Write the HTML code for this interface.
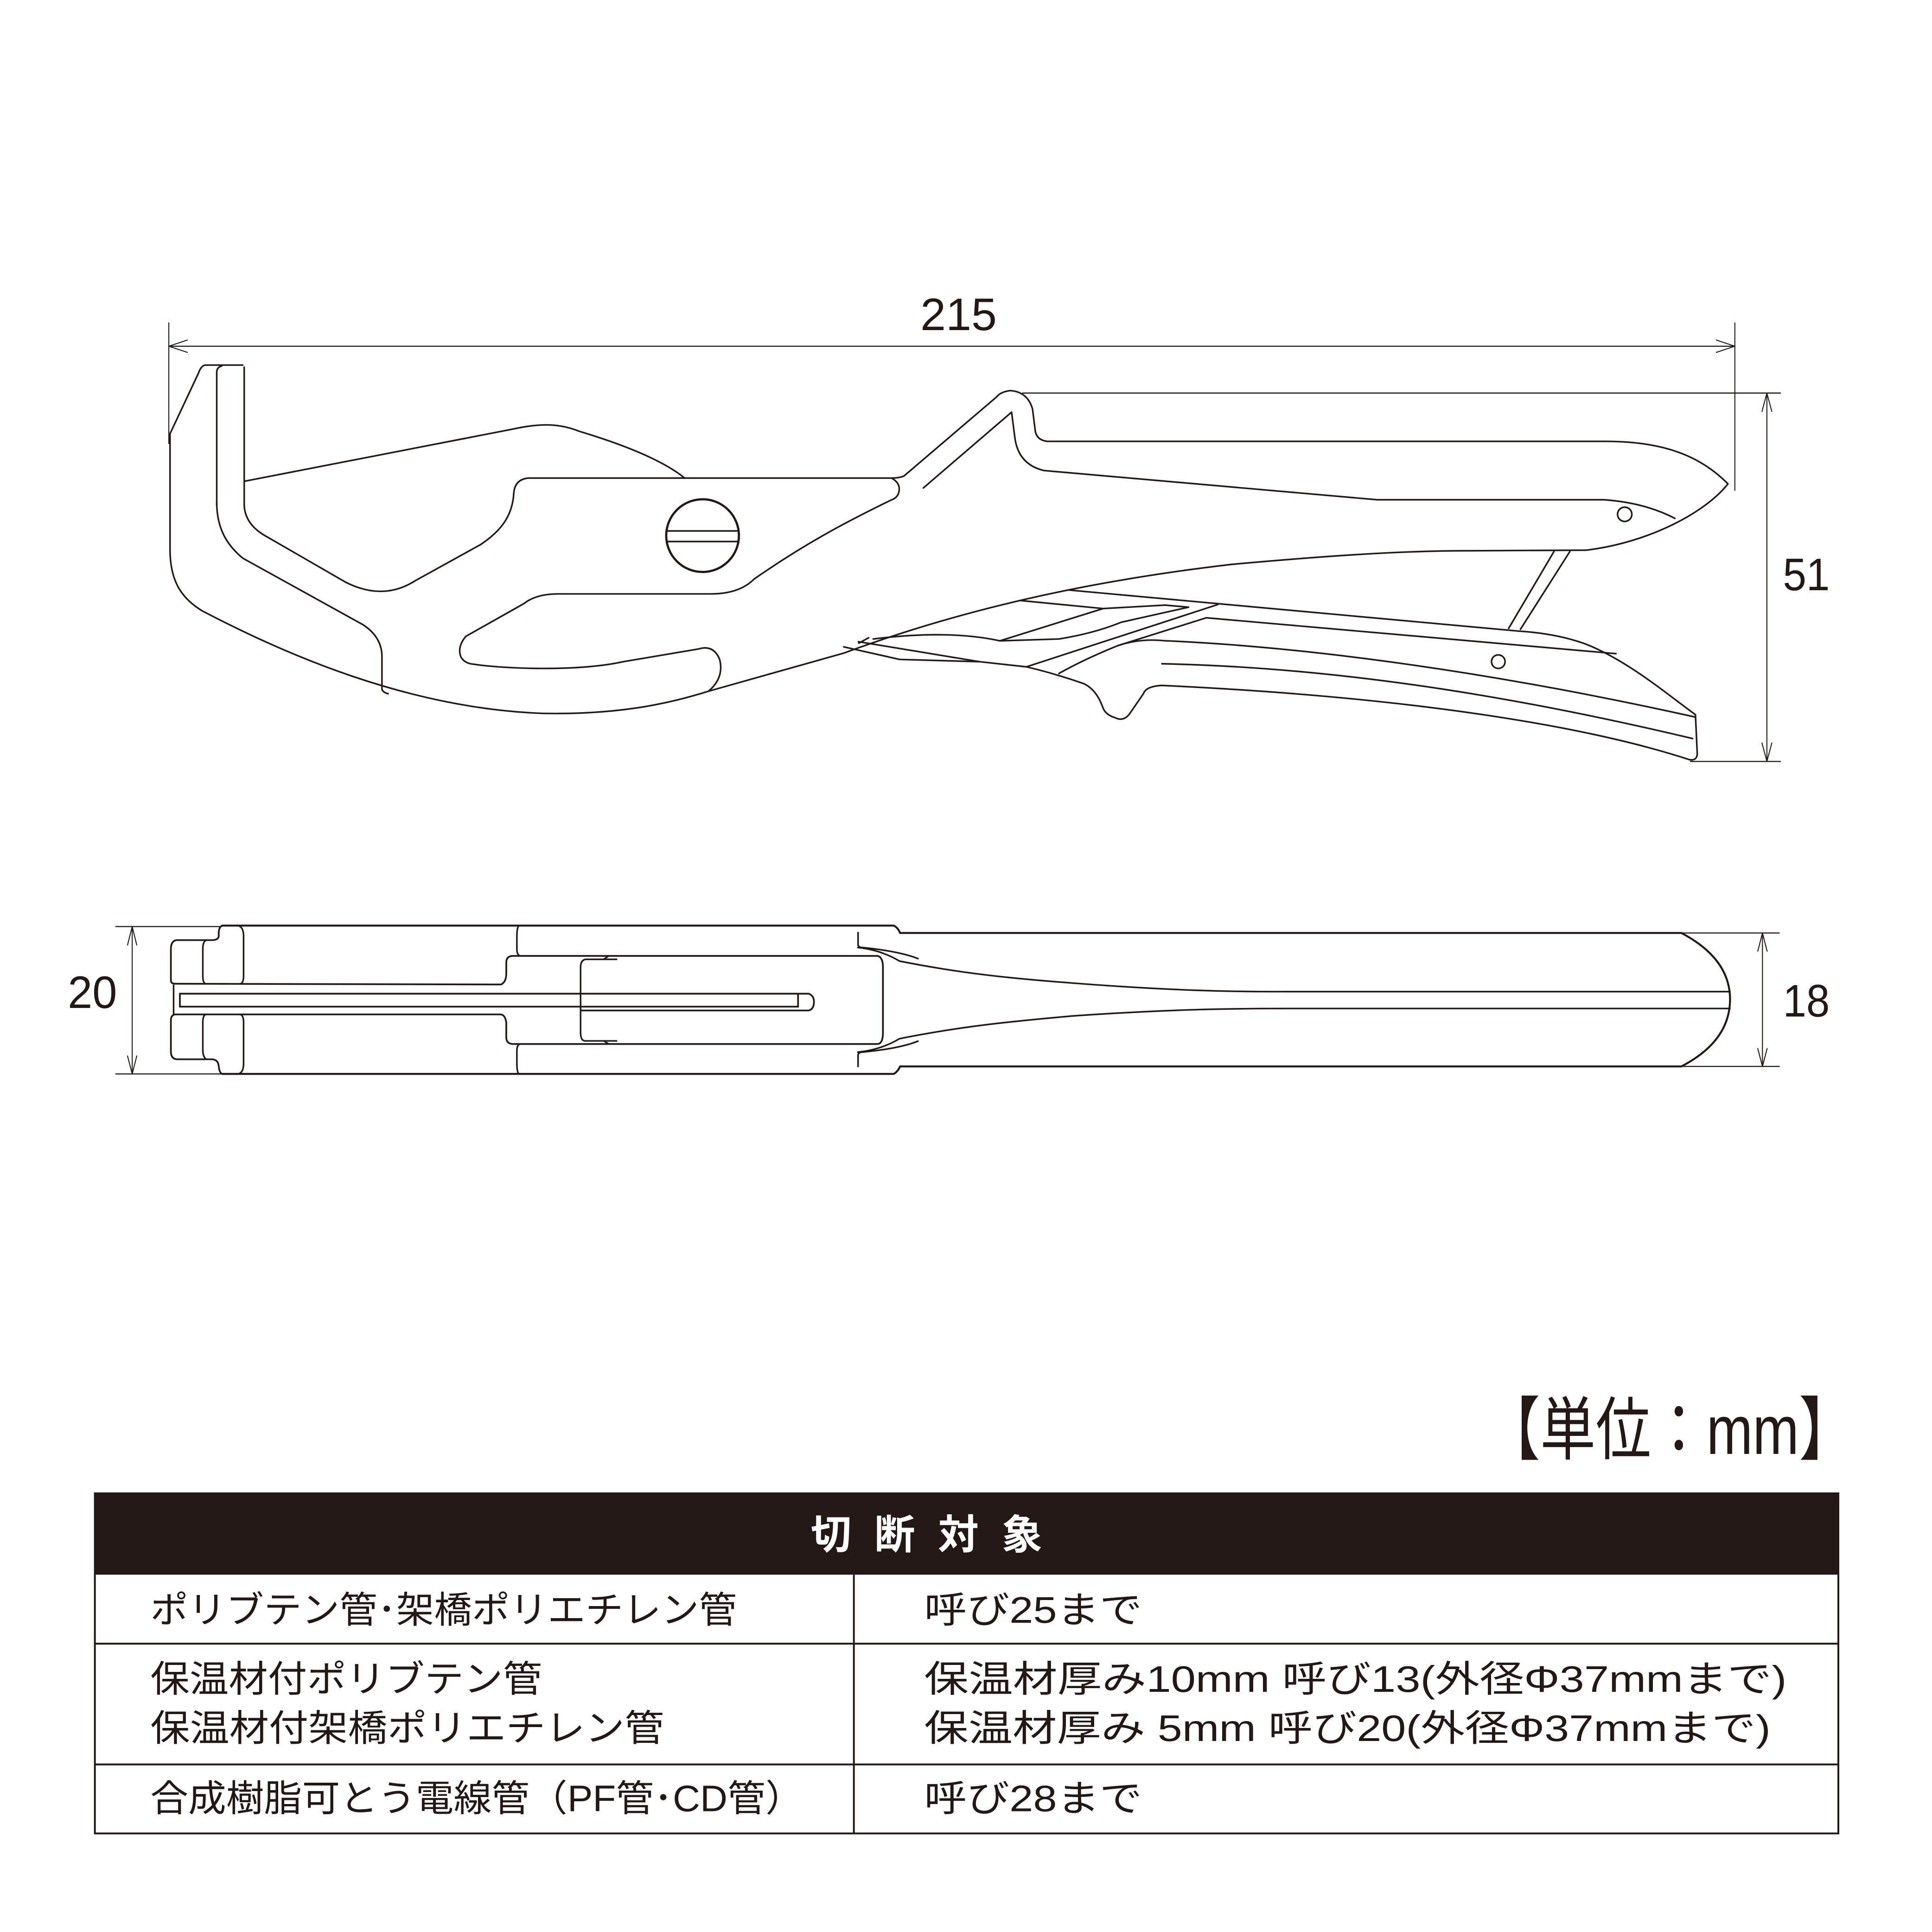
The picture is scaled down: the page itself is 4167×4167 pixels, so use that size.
<!DOCTYPE html>
<html><head><meta charset="utf-8"><style>
html,body{margin:0;padding:0;background:#fff;}
svg{display:block;}
text{font-family:"Liberation Sans","Noto Sans CJK JP",sans-serif;fill:#231815;}
</style></head><body>
<svg width="4167" height="4167" viewBox="0 0 1568 1568" xmlns="http://www.w3.org/2000/svg">
<g fill="none" stroke="#231815" stroke-width="1.3" stroke-linejoin="round" stroke-linecap="round">
<line x1="137" y1="262" x2="137" y2="360" stroke-width="0.8"/>
<line x1="1408" y1="262" x2="1408" y2="398" stroke-width="0.8"/>
<line x1="137" y1="281" x2="1408" y2="281" stroke-width="0.9"/>
<path d="M152,276 L137,281 L152,286 M1393,276 L1408,281 L1393,286" stroke-width="0.8"/>
<line x1="830" y1="319" x2="1445" y2="319" stroke-width="0.9"/>
<line x1="1372" y1="618" x2="1445" y2="618" stroke-width="0.9"/>
<line x1="1434" y1="319" x2="1434" y2="618" stroke-width="0.8"/>
<path d="M1430,334 L1434,319 L1438,334 M1430,603 L1434,618 L1438,603" stroke-width="0.8"/>

<path d="M197,296.3 L166.5,296.3 Q163,297 161,303 L138,352 L138,446 C138,470 146,485 164.5,496 C230,530 330,575 441,579 C500,580 540,572 575,561 L685,530 C780,495 880,472 1000,458 C1100,449 1150,447 1192,447 L1287.5,446.5 C1340,440 1385,415 1402.4,392.7 C1380,370 1350,358 1301.9,358.2 L849.8,358.2 Q840.5,357 840,348 L838,332 Q834,318 820,317 Q812,318 809,322 L733.7,386.3 Q730,388 723.5,388 L428.8,388 Q418,389 417,400 C416,420 405,432 390,442 L337,471.3 Q311,488 280.3,472.4 L213.3,433.7 Q198.2,424 198.2,409 L198.2,298"/>
<path d="M175.9,410 L175.9,302 Q176,298 180,297"/>
<path d="M175.9,408 C176,430 185,443 197,453 L294.6,507 Q310,517 310,533 L310,559.6 Q311,562 315,563"/>
<path d="M198.2,390.6 L416.5,348.2 C440,343 455,344 470,350 C510,362 540,375 555.6,388"/>
<path d="M723.5,388 Q731,392 729.6,399 Q728.5,404 723.5,405.7 C690,422 655,440 612,470 Q600,482 577,482 L453,482 Q435,482 425,490 L378,516.5 Q371,525 374,533 Q377,538.5 384,539 C410,543 470,545 506,537 L567,526.7 Q579,523 584,535 Q588,550 575,561"/>
<circle cx="570.2" cy="434.7" r="29.5" stroke-width="1.8"/>
<line x1="541.5" y1="430.9" x2="599" y2="430.9"/>
<line x1="541.5" y1="439.5" x2="599" y2="439.5"/>
<path d="M749.4,396 L821,334.5 L823.5,354 Q826,377 847.4,381.9 L1117.7,405.6 L1301.9,405.6 Q1335,408 1359.3,420.7"/>
<circle cx="1318.6" cy="417.4" r="5.8"/>
<line x1="1261.2" y1="447.6" x2="1224.4" y2="510"/>
<line x1="1274.1" y1="447.6" x2="1234" y2="510.7"/>
<path d="M866.6,478.8 L1232.5,512.2 Q1262,514 1285,522 C1320,535 1355,565 1376,580 L1377.5,612 Q1377,617.5 1371.3,616.6 C1290,590 1150,566 943,556.3 Q930,557 928,563 L917,579 Q912,586 905,582.5 Q897,580 895,574 Q890,560 880,555 C860,548 845,544 833,541.2 L794.8,537"/>
<line x1="979" y1="501.4" x2="1311.5" y2="530.5"/>
<path d="M979,501.4 L907.2,524 Q880,535 859.4,546.6"/>
<path d="M907.2,524 Q925,518 945,520 C1060,525 1210,545 1376,582"/>
<path d="M943,538.7 C1100,542 1250,570 1373.7,599.4"/>
<circle cx="1216" cy="537" r="5.5"/>
<path d="M684.8,525 L730.2,535.2 L794.8,537"/>
<path d="M696.7,520.8 L794.8,537"/>
<path d="M708.7,518.6 Q770,511 811.5,520.1 L859.4,518.6 Q888,514 910,505 L964.6,492.8 L945.5,491.1 L895.3,493.9 L811.5,520.1"/>
<path d="M828.3,487.4 L895.3,493.9"/>
<path d="M988.5,490.6 L833,541.2"/>
<path d="M697,522 L705,517.6"/>

<line x1="94" y1="752" x2="180" y2="752" stroke-width="0.9"/>
<line x1="94" y1="871.6" x2="180" y2="871.6" stroke-width="0.9"/>
<line x1="107.3" y1="752" x2="107.3" y2="871.6" stroke-width="0.8"/>
<path d="M103.5,767 L107.3,752 L111,767 M103.5,857 L107.3,871.6 L111,857" stroke-width="0.8"/>

<path d="M180.5,751.2 L725.2,751.2 Q728.5,752.5 730.5,757.2 L1364.6,757.2 Q1404,778 1404.1,811 Q1404,845 1364.6,865.5 L730.5,865.5 Q728.5,870 725.2,871.6 L180.5,871.6" stroke-width="1.6"/>
<path d="M180.5,751.2 Q177.5,752 177.5,758 L177.5,760 Q177,763 172,763 L143,763 Q138.7,764 138.7,770 L138.7,796 Q139,798.4 142,798.4 L406.6,799 Q410.9,797 410.9,790 L410.9,781 Q411,776 416,775.8 L712.3,775.8 Q716.6,777 716.6,785 L716.6,838 Q716.6,847 712.3,847.3 L416,847.3 Q411,847 410.9,842 L410.9,830 Q410,823.3 406,823.3 L142,823.3 Q138.7,824 138.7,828 L138.7,854 Q139,859.7 144,859.7 L172,859.7 Q177,860 177.5,865 Q178,871 180.5,871.6" stroke-width="1.4"/>
<path d="M167.6,763 Q164.6,764 164.6,770 L164.6,792 Q164.6,798 167,798.4 M167.6,859.7 Q164.6,858 164.6,852 L164.6,830 Q164.6,824 167,823.3"/>
<path d="M194,751.5 Q197.7,753 197.7,760 L197.7,792 Q197.7,798 195,798.4 M194,871.4 Q197.7,870 197.7,863 L197.7,830 Q197.7,824 195,823.3"/>
<path d="M421,751.5 Q419.5,753 419.5,760 L419.5,770 Q419.5,775 422,775.8 M421,871.4 Q419.5,870 419.5,863 L419.5,853 Q419.5,848 422,847.3"/>
<line x1="140.9" y1="799.7" x2="140.9" y2="823.3"/>
<path d="M146,806.5 L656.3,806.5 Q660.6,808 660.6,813 Q660.6,819 656.3,820.1 L471.2,820.1 M146,806.5 L146,817 L647.7,817 L647.7,806.5" stroke-width="1.4"/>
<path d="M500.4,778.6 L475,778.6 Q471.2,779.5 471.2,785 L471.2,838 Q471.2,844.8 475,844.8 L500.4,844.8"/>
<path d="M490,778.6 L494,775.8 M490,844.8 L494,847.3"/>
<path d="M696.4,756.9 L696.4,767 Q697,769 700,769 Q730,772 745,778 M696.4,865.5 L696.4,856 Q697,853.9 700,853.9 Q730,851 745,845"/>
<path d="M696.2,769 Q715,771 730,780 C780,790 820,794 869.9,797.8 C950,804 1000,805 1043.6,804.8 L1404,804.8"/>
<path d="M696.2,853.9 Q715,852 730,843 C780,833 820,829 869.9,824.6 C950,819 1000,818.5 1043.6,818.5 L1404,818.5"/>
<line x1="1364" y1="757.2" x2="1444" y2="757.2" stroke-width="0.9"/>
<line x1="1364" y1="865.5" x2="1444" y2="865.5" stroke-width="0.9"/>
<line x1="1430.4" y1="757.2" x2="1430.4" y2="865.5" stroke-width="0.8"/>
<path d="M1426.6,772 L1430.4,757.2 L1434.2,772 M1426.6,851 L1430.4,865.5 L1434.2,851" stroke-width="0.8"/>
</g>

<text x="778" y="268" font-size="37" text-anchor="middle" textLength="62" lengthAdjust="spacingAndGlyphs">215</text>
<text x="1466" y="479" font-size="37" text-anchor="middle" textLength="38" lengthAdjust="spacingAndGlyphs">51</text>
<text x="75" y="818" font-size="37" text-anchor="middle" textLength="40" lengthAdjust="spacingAndGlyphs">20</text>
<text x="1466" y="825" font-size="37" text-anchor="middle" textLength="38" lengthAdjust="spacingAndGlyphs">18</text>

<text x="1205" y="1180" font-size="56" textLength="300" lengthAdjust="spacingAndGlyphs">【単位：mm】</text>

<rect x="77" y="1212" width="1415" height="66" fill="#231815"/>
<text x="752" y="1257" font-size="33" font-weight="bold" text-anchor="middle" style="fill:#fff" textLength="188" lengthAdjust="spacing">切断対象</text>
<g fill="none" stroke="#231815" stroke-width="1.5">
<rect x="77" y="1212" width="1415" height="276"/>
<line x1="77" y1="1334" x2="1492" y2="1334"/>
<line x1="77" y1="1432" x2="1492" y2="1432"/>
<line x1="693" y1="1278" x2="693" y2="1488"/>
</g>
<g font-size="30" font-weight="normal">
<text x="122" y="1317" textLength="476" lengthAdjust="spacingAndGlyphs">ポリブテン管･架橋ポリエチレン管</text>
<text x="750" y="1317" textLength="177" lengthAdjust="spacingAndGlyphs">呼び25まで</text>
<text x="122" y="1373" textLength="318" lengthAdjust="spacingAndGlyphs">保温材付ポリブテン管</text>
<text x="122" y="1413" textLength="417" lengthAdjust="spacingAndGlyphs">保温材付架橋ポリエチレン管</text>
<text x="750" y="1373" textLength="700" lengthAdjust="spacingAndGlyphs">保温材厚み10mm 呼び13(外径Φ37mmまで)</text>
<text x="750" y="1413" textLength="687" lengthAdjust="spacingAndGlyphs">保温材厚み 5mm 呼び20(外径Φ37mmまで)</text>
<text x="122" y="1470" textLength="530" lengthAdjust="spacingAndGlyphs">合成樹脂可とう電線管（PF管･CD管）</text>
<text x="750" y="1470" textLength="177" lengthAdjust="spacingAndGlyphs">呼び28まで</text>
</g>
</svg>
</body></html>
